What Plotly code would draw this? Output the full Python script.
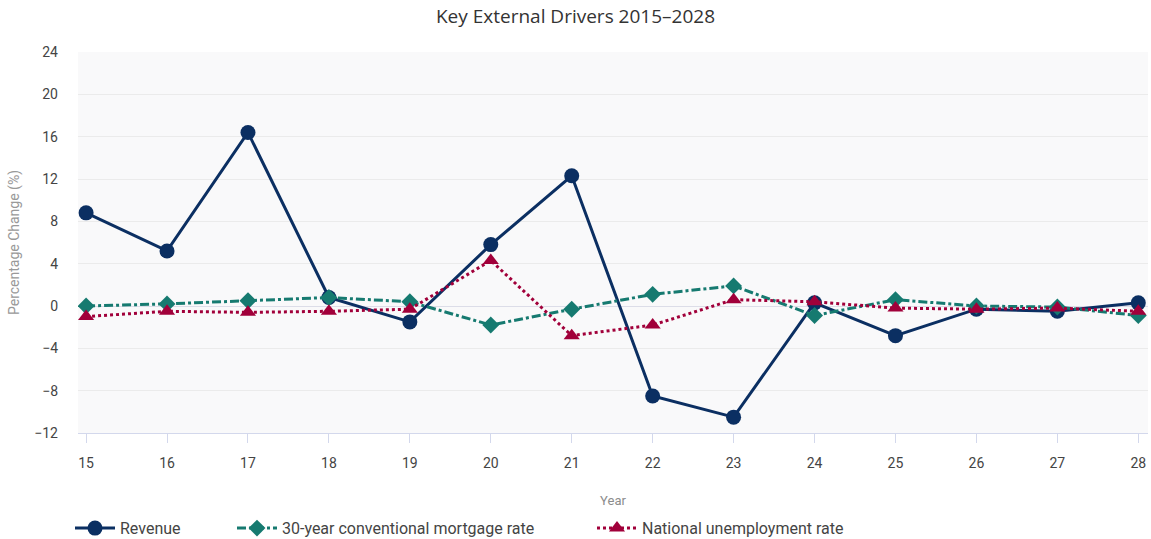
import plotly.graph_objects as go

years = [15, 16, 17, 18, 19, 20, 21, 22, 23, 24, 25, 26, 27, 28]
revenue = [8.8, 5.2, 16.4, 0.8, -1.5, 5.8, 12.3, -8.5, -10.5, 0.3, -2.8, -0.3, -0.5, 0.3]
mortgage = [0.0, 0.2, 0.5, 0.8, 0.4, -1.8, -0.3, 1.1, 1.9, -0.9, 0.6, 0.0, -0.1, -0.9]
unemployment = [-1.0, -0.5, -0.6, -0.5, -0.3, 4.3, -2.8, -1.8, 0.6, 0.4, -0.2, -0.3, -0.2, -0.5]
y_ticks = [-12, -8, -4, 0, 4, 8, 12, 16, 20, 24]

fig = go.Figure()
fig.add_trace(go.Scatter(x=years, y=revenue, name="Revenue", mode="lines+markers",
                         line=dict(color="#0b2f62", width=3),
                         marker=dict(symbol="circle", size=15, color="#0b2f62"),
                         legend="legend"))
fig.add_trace(go.Scatter(x=years, y=mortgage, name="30-year conventional mortgage rate", mode="lines+markers",
                         line=dict(color="#167a70", width=3, dash="dashdot"),
                         marker=dict(symbol="diamond", size=13, color="#167a70"),
                         legend="legend2"))
fig.add_trace(go.Scatter(x=years, y=unemployment, name="National unemployment rate", mode="lines+markers",
                         line=dict(color="#a1003a", width=3, dash="dot"),
                         marker=dict(symbol="triangle-up", size=14, color="#a1003a"),
                         legend="legend3"))

leg_common = dict(orientation="h", xanchor="left", yref="container", xref="container",
                  y=0.02, yanchor="middle", font=dict(size=16, color="#444444"),
                  bgcolor="rgba(0,0,0,0)", itemwidth=40)

fig.update_layout(
    width=1151, height=539,
    margin=dict(l=78, r=3, t=52, b=106, autoexpand=False),
    paper_bgcolor="white", plot_bgcolor="#f9f9fa",
    title=dict(text="Key External Drivers 2015\u20132028", x=0.5, xanchor="center",
               xref="container", yref="container", y=0.97, yanchor="middle",
               font=dict(family="Open Sans", size=19, color="#333333")),
    font=dict(family="Roboto", color="#444444"),
    xaxis=dict(range=[14.9, 28.12], tickvals=years, ticktext=[str(y) for y in years],
               showgrid=False, zeroline=False, showline=True, linecolor="#d3d8ec", linewidth=1,
               ticks="outside", ticklen=9, tickcolor="#d3d8ec", ticklabelstandoff=8,
               tickfont=dict(size=14, color="#444444"),
               title=dict(text="Year", font=dict(size=13, color="#8c8c8c"), standoff=26)),
    yaxis=dict(range=[-12, 24], tickvals=y_ticks, showgrid=True, gridcolor="#ebebeb", gridwidth=1,
               zeroline=True, zerolinecolor="#dcdde8", zerolinewidth=1,
               tickfont=dict(size=14, color="#444444"), ticklabelstandoff=19,
               title=dict(text="Percentage Change (%)", font=dict(size=14, color="#999999"), standoff=11)),
    legend=dict(x=70 / 1151, **leg_common),
    legend2=dict(x=232 / 1151, **leg_common),
    legend3=dict(x=592 / 1151, **leg_common),
    showlegend=True,
)

fig.write_html("out.html")
